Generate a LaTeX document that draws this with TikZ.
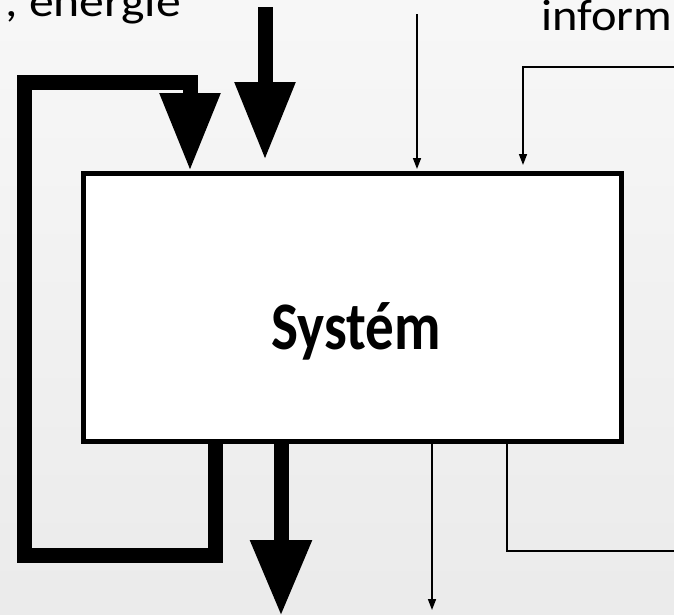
\documentclass[tikz,border=0pt]{standalone}
\usepackage{fontspec}
\setmainfont{Carlito}
\usetikzlibrary{arrows.meta}
\begin{document}
\begin{tikzpicture}[x=1pt,y=-1pt,
  big/.style={line width=15pt,line join=miter,-{Triangle[width=57pt,length=78pt]}},
  small/.style={line width=1.6pt,-{Triangle[width=8pt,length=11pt]}},
  thinline/.style={line width=1.6pt},
  toplabel/.style={font=\fontsize{44}{44}\selectfont,inner sep=0pt},
  sysbox/.style={draw,line width=5pt,fill=white,minimum width=538pt,minimum height=268pt,inner sep=0pt}]
\useasboundingbox (0,0) rectangle (674,614);
\shade[top color=black!3,bottom color=black!8] (0,0) rectangle (674,614);
\clip (0,0) rectangle (674,614);
% labels
\node[toplabel,anchor=base east] (lenergie) at (181,16) {\scalebox{1.13}[1]{, energie}};
\node[toplabel,anchor=base west] (linform) at (541,30) {\scalebox{1.1}[1]{inform}};
% system box
\node[sysbox] (sys) at (352.5,307.5) {};
\node[font=\fontsize{68}{68}\selectfont\bfseries,anchor=base,inner sep=0pt] (lsys) at (356,349) {\scalebox{0.84}[1]{Systém}};
% thick material/energy arrows
\coordinate (inA) at (265,7);
\draw[big,shorten >=11pt] (inA) -- (inA |- sys.north);
\coordinate (fbA) at (215,555);
\coordinate (fbB) at (24,82);
\coordinate (fbC) at (190,82);
\draw[big] (fbA |- sys.south) -- (fbA) -- (fbB |- fbA) -- (fbB) -- (fbC) -- (fbC |- sys.north);
\coordinate (outA) at (281,616);
\draw[big,-{Triangle[width=58pt,length=76pt]}] (outA |- sys.south) -- (outA);
% thin information arrows
\coordinate (inB) at (417,14);
\draw[small,shorten >=2pt] (inB) -- (inB |- sys.north);
\coordinate (inC) at (680,67);
\coordinate (inD) at (523,67);
\draw[small,shorten >=6pt] (inC) -- (inD) -- (inD |- sys.north);
\coordinate (outB) at (432,610);
\draw[small] (outB |- sys.south) -- (outB);
\coordinate (outC) at (507,551);
\coordinate (outD) at (680,551);
\draw[thinline] (outC |- sys.south) -- (outC) -- (outD);
\end{tikzpicture}
\end{document}
